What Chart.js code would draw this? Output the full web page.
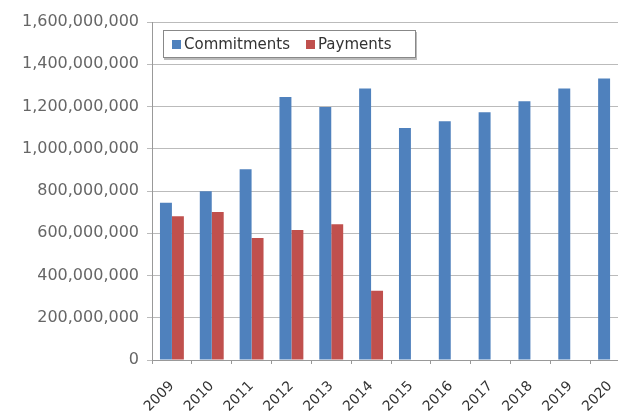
<!DOCTYPE html>
<html>
<head>
<meta charset="utf-8">
<script src="https://cdn.jsdelivr.net/npm/chart.js@4"></script>
<style>
  html, body { margin: 0; padding: 0; background: #fff; overflow: hidden; }
  #wrap { position: relative; width: 632px; height: 414px; }
  #legend {
    position: absolute; left: 163px; top: 30px; width: 253px; height: 28px;
    border: 1px solid #888; box-shadow: 1px 2px 0 #bbb; background: #fff;
    font: 15px "DejaVu Sans", sans-serif; color: #333;
    display: flex; align-items: center; padding-left: 8px; box-sizing: border-box;
  }
  #legend span.sw { display: inline-block; width: 9px; height: 9px; margin-right: 3px; }
</style>
</head>
<body>
<div id="wrap">
  <canvas id="chart" width="632" height="414"></canvas>
  <div id="legend">
    <span class="sw" style="background:#4F81BD"></span><span>Commitments</span>
    <span class="sw" style="background:#C0504D;margin-left:16px"></span><span>Payments</span>
  </div>
</div>
<script>
const years = ['2009', '2010', '2011', '2012', '2013', '2014', '2015', '2016', '2017', '2018', '2019', '2020'];
const commitments = [744e6, 799e6, 903e6, 1245e6, 1198e6, 1285e6, 1098e6, 1130e6, 1173e6, 1225e6, 1285e6, 1332e6];
const payments = [681e6, 701e6, 578e6, 615e6, 643e6, 328e6, null, null, null, null, null, null];

const ctx = document.getElementById('chart').getContext('2d');
new Chart(ctx, {
  type: 'bar',
  data: {
    labels: years,
    datasets: [
      { label: 'Commitments', data: commitments, backgroundColor: '#4F81BD' },
      { label: 'Payments', data: payments, backgroundColor: '#C0504D' },
    ],
  },
  options: {
    responsive: false,
    animation: false,
    datasets: { bar: { barPercentage: 1, categoryPercentage: 0.6 } },
    layout: { padding: { top: 22, left: 0, right: 2, bottom: 0 } },
    plugins: { legend: { display: false }, tooltip: { enabled: false } },
    scales: {
      x: {
        afterFit: (s) => { s.height = 54; s.paddingLeft = 0; s.paddingRight = 0; },
        grid: { drawOnChartArea: false, color: '#999', tickLength: 4 },
        border: { color: '#999' },
        ticks: {
          minRotation: 45, maxRotation: 45, padding: 14,
          color: '#333', font: { family: 'DejaVu Sans', size: 14 },
        },
      },
      y: {
        min: 0, max: 1600000000,
        afterFit: (s) => { s.width = 152; },
        grid: { color: '#bbb', tickLength: 5 },
        border: { color: '#999' },
        ticks: {
          stepSize: 200000000,
          color: '#666', padding: 8,
          font: { family: 'DejaVu Sans', size: 16 },
          callback: (v) => v.toLocaleString('en-US'),
        },
      },
    },
  },
});
</script>
</body>
</html>
